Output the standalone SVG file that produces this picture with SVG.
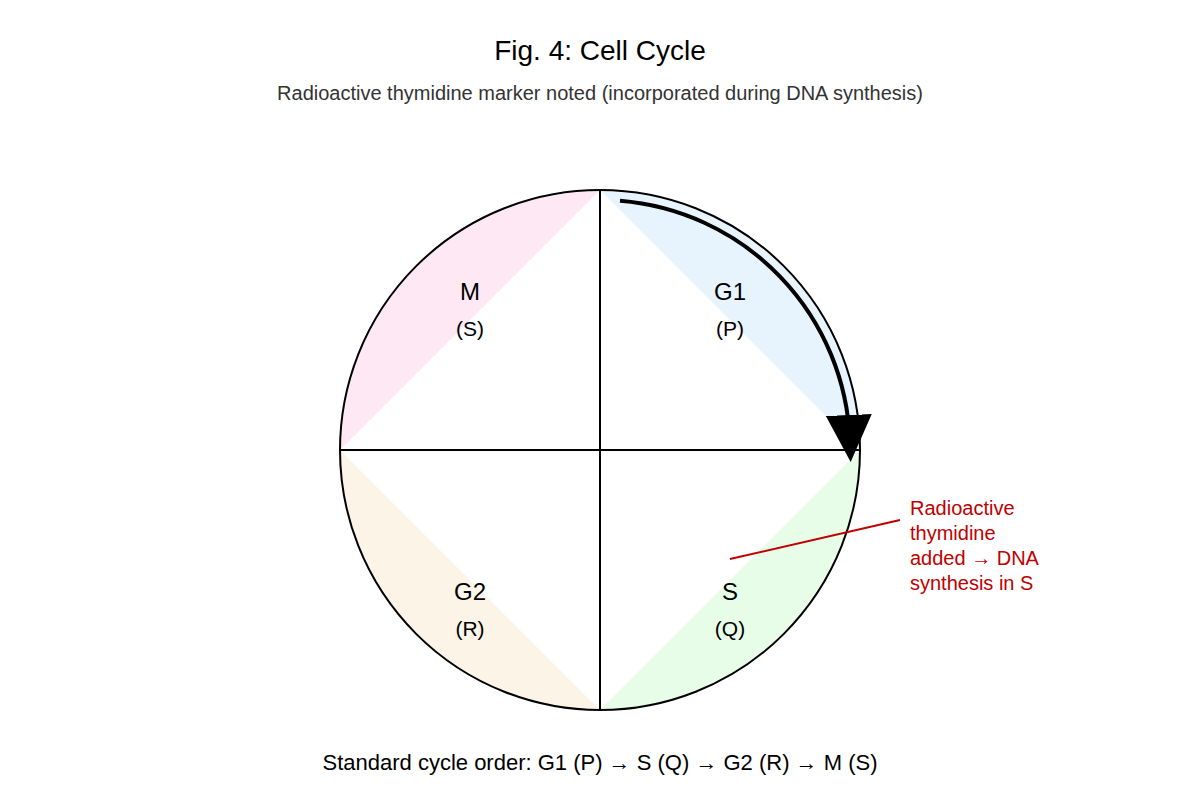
<svg xmlns="http://www.w3.org/2000/svg" width="1200" height="800" viewBox="0 0 1200 800">
<style>
text{font-family:"Liberation Sans",Arial,sans-serif;}
.ph{font-size:24px;fill:#000;text-anchor:middle;}
.lt{font-size:21px;fill:#000;text-anchor:middle;}
.ann{font-size:20px;fill:#c00000;}
.div{stroke:#000;stroke-width:2;fill:none;}
</style>
<defs>
<marker id="ah" markerUnits="userSpaceOnUse" viewBox="0 0 47 46" markerWidth="47" markerHeight="46" refX="25" refY="23" orient="auto">
<path d="M0,0 L47,23 L0,46 Z" fill="#000"/>
</marker>
</defs>
<rect width="1200" height="800" fill="#fff"/>
<text x="600" y="60" style="font-size:28px;text-anchor:middle;fill:#000">Fig. 4: Cell Cycle</text>
<text x="600" y="100" style="font-size:20px;text-anchor:middle;fill:#333">Radioactive thymidine marker noted (incorporated during DNA synthesis)</text>
<g id="g1"><path d="M600,190 A260,260 0 0 1 860,450 Z" fill="#e8f4fd"/><text class="ph" x="730" y="300">G1</text><text class="lt" x="730" y="336">(P)</text></g>
<g id="s"><path d="M860,450 A260,260 0 0 1 600,710 Z" fill="#e8fde8"/><text class="ph" x="730" y="600">S</text><text class="lt" x="730" y="636">(Q)</text></g>
<g id="g2"><path d="M600,710 A260,260 0 0 1 340,450 Z" fill="#fdf4e8"/><text class="ph" x="470" y="600">G2</text><text class="lt" x="470" y="636">(R)</text></g>
<g id="m"><path d="M340,450 A260,260 0 0 1 600,190 Z" fill="#fde8f4"/><text class="ph" x="470" y="300">M</text><text class="lt" x="470" y="336">(S)</text></g>
<g id="frame">
<circle cx="600" cy="450" r="260" class="div"/>
<line x1="600" y1="190" x2="600" y2="710" class="div"/>
<line x1="340" y1="450" x2="860" y2="450" class="div"/>
</g>
<g id="connectors">
<path d="M620,200.8 A250,250 0 0 1 849.8,440" fill="none" stroke="#000" stroke-width="4" marker-end="url(#ah)"/>
<line x1="730" y1="559" x2="900" y2="520" stroke="#c00000" stroke-width="2"/>
</g>
<g id="annotation">
<text class="ann" x="910" y="515">Radioactive</text>
<text class="ann" x="910" y="540">thymidine</text>
<text class="ann" x="910" y="565">added → DNA</text>
<text class="ann" x="910" y="590">synthesis in S</text>
</g>
<text x="600" y="770" style="font-size:22px;text-anchor:middle;fill:#000">Standard cycle order: G1 (P) → S (Q) → G2 (R) → M (S)</text>
</svg>
